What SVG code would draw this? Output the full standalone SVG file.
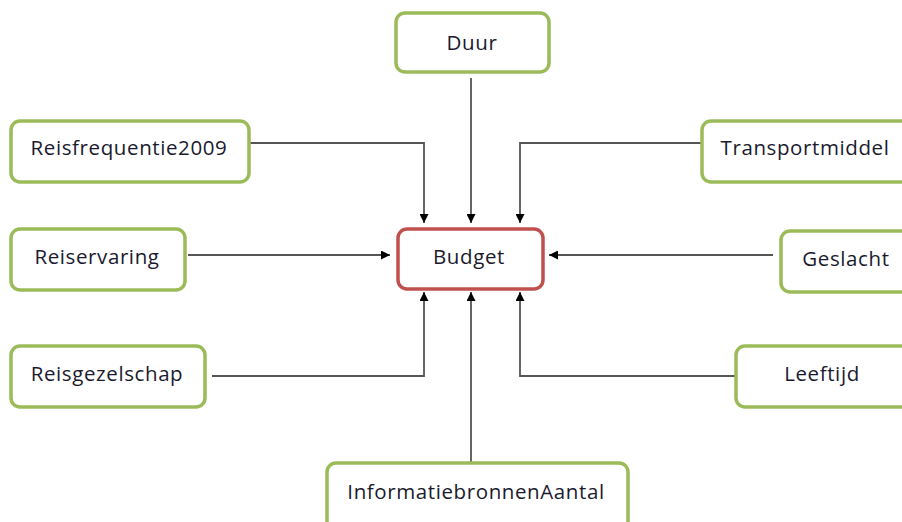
<svg xmlns="http://www.w3.org/2000/svg" width="902" height="522" viewBox="0 0 902 522">
<style>
.g{fill:#fff;stroke:#9BBB59;stroke-width:3.5}
.r{fill:#fff;stroke:#C0504D;stroke-width:3.5}
.t{font-family:"Open Sans","Noto Sans","Liberation Sans",sans-serif;font-size:20.5px;letter-spacing:0.6px;fill:#1a1a2e;text-anchor:middle;dominant-baseline:central}
.c{fill:none;stroke:#555;stroke-width:1.8}
</style>
<defs>
<marker id="a" viewBox="0 0 10 10" refX="10" refY="5" markerWidth="9" markerHeight="9" markerUnits="userSpaceOnUse" orient="auto">
<path d="M0,0 L10,5 L0,10 z" fill="#000"/>
</marker>
</defs>
<rect width="902" height="522" fill="#fff"/>
<g id="connectors">
<path class="c" d="M471,78 V223" marker-end="url(#a)"/>
<path class="c" d="M249,143 H424 V223" marker-end="url(#a)"/>
<path class="c" d="M702,143 H520 V223" marker-end="url(#a)"/>
<path class="c" d="M188,255 H390" marker-end="url(#a)"/>
<path class="c" d="M773,255 H549" marker-end="url(#a)"/>
<path class="c" d="M212,376 H424 V292" marker-end="url(#a)"/>
<path class="c" d="M736,376 H520 V292" marker-end="url(#a)"/>
<path class="c" d="M471,462 V292" marker-end="url(#a)"/>
</g>
<g id="duur"><rect class="g" x="396" y="13" width="153" height="59" rx="9"/><text class="t" x="472" y="42">Duur</text></g>
<g id="reisfrequentie2009"><rect class="g" x="11" y="121" width="238" height="61" rx="9"/><text class="t" x="129" y="147">Reisfrequentie2009</text></g>
<g id="reiservaring"><rect class="g" x="11" y="229" width="174" height="61" rx="9"/><text class="t" x="97" y="256">Reiservaring</text></g>
<g id="reisgezelschap"><rect class="g" x="11" y="346" width="194" height="61" rx="9"/><text class="t" x="107" y="373">Reisgezelschap</text></g>
<g id="budget"><rect class="r" x="398" y="229" width="145" height="60" rx="9"/><text class="t" x="469" y="256">Budget</text></g>
<g id="transportmiddel"><rect class="g" x="702" y="121" width="230" height="61" rx="9"/><text class="t" x="805" y="147">Transportmiddel</text></g>
<g id="geslacht"><rect class="g" x="781" y="231" width="150" height="61" rx="9"/><text class="t" x="846" y="258">Geslacht</text></g>
<g id="leeftijd"><rect class="g" x="736" y="346" width="190" height="61" rx="9"/><text class="t" x="822" y="373">Leeftijd</text></g>
<g id="informatiebronnenaantal"><rect class="g" x="327" y="463" width="301" height="75" rx="9"/><text class="t" x="476" y="491">InformatiebronnenAantal</text></g>
</svg>
